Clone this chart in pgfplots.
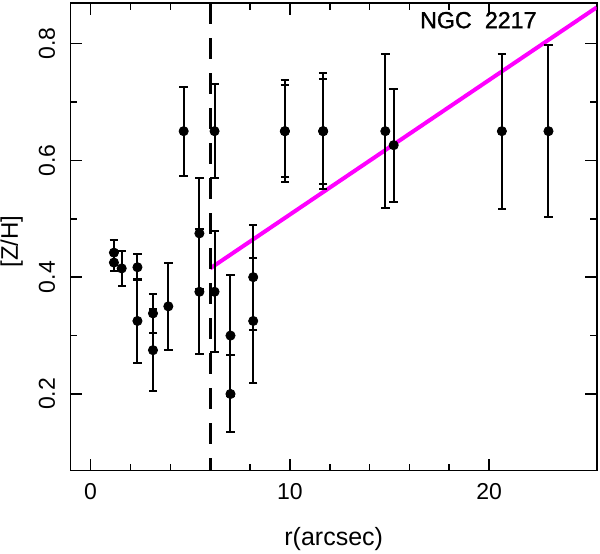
\documentclass[border=0pt]{standalone}
\usepackage{fontspec}
\setmainfont{Liberation Sans}
\newfontfamily\titlefont[FakeBold=1.4]{Liberation Sans}
\usepackage{pgfplots}
\pgfplotsset{compat=1.18}

\definecolor{fitline}{RGB}{255,0,255}

\begin{document}
\begin{tikzpicture}
\begin{axis}[
  name=ax,
  scale only axis,
  width=263pt, height=233.7pt,
  xmin=-1, xmax=25.4,
  ymin=0.0686, ymax=0.869,
  xtick={0,10,20}, minor x tick num=4,
  ytick={0.2,0.4,0.6,0.8}, minor y tick num=1,
  tick align=inside, xtick pos=both, ytick pos=both,
  major tick length=5.85pt, minor tick length=3.35pt,
  tick style={black, line width=0.8pt},
  axis line style={line width=0.8pt},
  /pgf/number format/assume math mode=true,
  yticklabel style={rotate=90, anchor=base, inner sep=0pt, font=\fontsize{11.5}{12}\selectfont},
  yticklabel shift=7.85pt,
  xticklabel style={anchor=north, inner sep=0pt, font=\fontsize{11.5}{12}\selectfont},
  xticklabel shift=6.3pt,
  xlabel={r(arcsec)},
  xlabel style={at={(axis description cs:0.5,-0.159)}, anchor=base, inner sep=0pt, font=\fontsize{12.5}{13}\selectfont},
  ylabel={[Z/H]},
  ylabel style={at={(axis description cs:-0.1002,0.49)}, rotate=0, anchor=base, inner sep=0pt, font=\fontsize{12}{13}\selectfont},
]
% fit beyond the break radius
\addplot[fitline, line width=2pt] coordinates {(6.0,0.415) (25.4,0.862)};
% break radius
\addplot[black, line width=1.4pt, dash pattern=on 10.5pt off 7pt] coordinates {(6,0.869) (6,0.0686)};
% measurements
\addplot[only marks, black, mark=*, mark size=2.3pt,
  error bars/.cd, y dir=both, y explicit,
  error mark=-,
  error bar style={black, line width=1pt},
  error mark options={rotate=90, black, line width=1pt, mark size=2.1pt}]
  table[x=r, y=zh, y error=err] {
r      zh     err
1.17   0.442  0.021
1.17   0.425  0.014
1.56   0.415  0.030
2.35   0.417  0.022
2.35   0.325  0.072
3.13   0.338  0.033
3.13   0.275  0.070
3.90   0.350  0.075
4.67   0.650  0.076
5.46   0.475  0.095
5.46   0.375  0.107
6.22   0.375  0.104
6.22   0.650  0.080
7.02   0.300  0.104
7.02   0.200  0.066
8.16   0.400  0.090
8.16   0.325  0.107
9.75   0.650  0.087
9.75   0.650  0.079
11.67  0.650  0.099
11.67  0.650  0.090
14.79  0.650  0.132
15.21  0.626  0.097
20.64  0.650  0.133
22.98  0.650  0.147
};
\node[anchor=base, inner sep=0pt, font=\titlefont\fontsize{11.6}{12}\selectfont] at (axis cs:19.46,0.8264) {NGC\hspace{6.6pt}2217};
\end{axis}
\pgfresetboundingbox
\path[use as bounding box] ([shift={(-35.35pt,-41.65pt)}]ax.south west) rectangle ([shift={(1.65pt,1.65pt)}]ax.north east);
\end{tikzpicture}
\end{document}
